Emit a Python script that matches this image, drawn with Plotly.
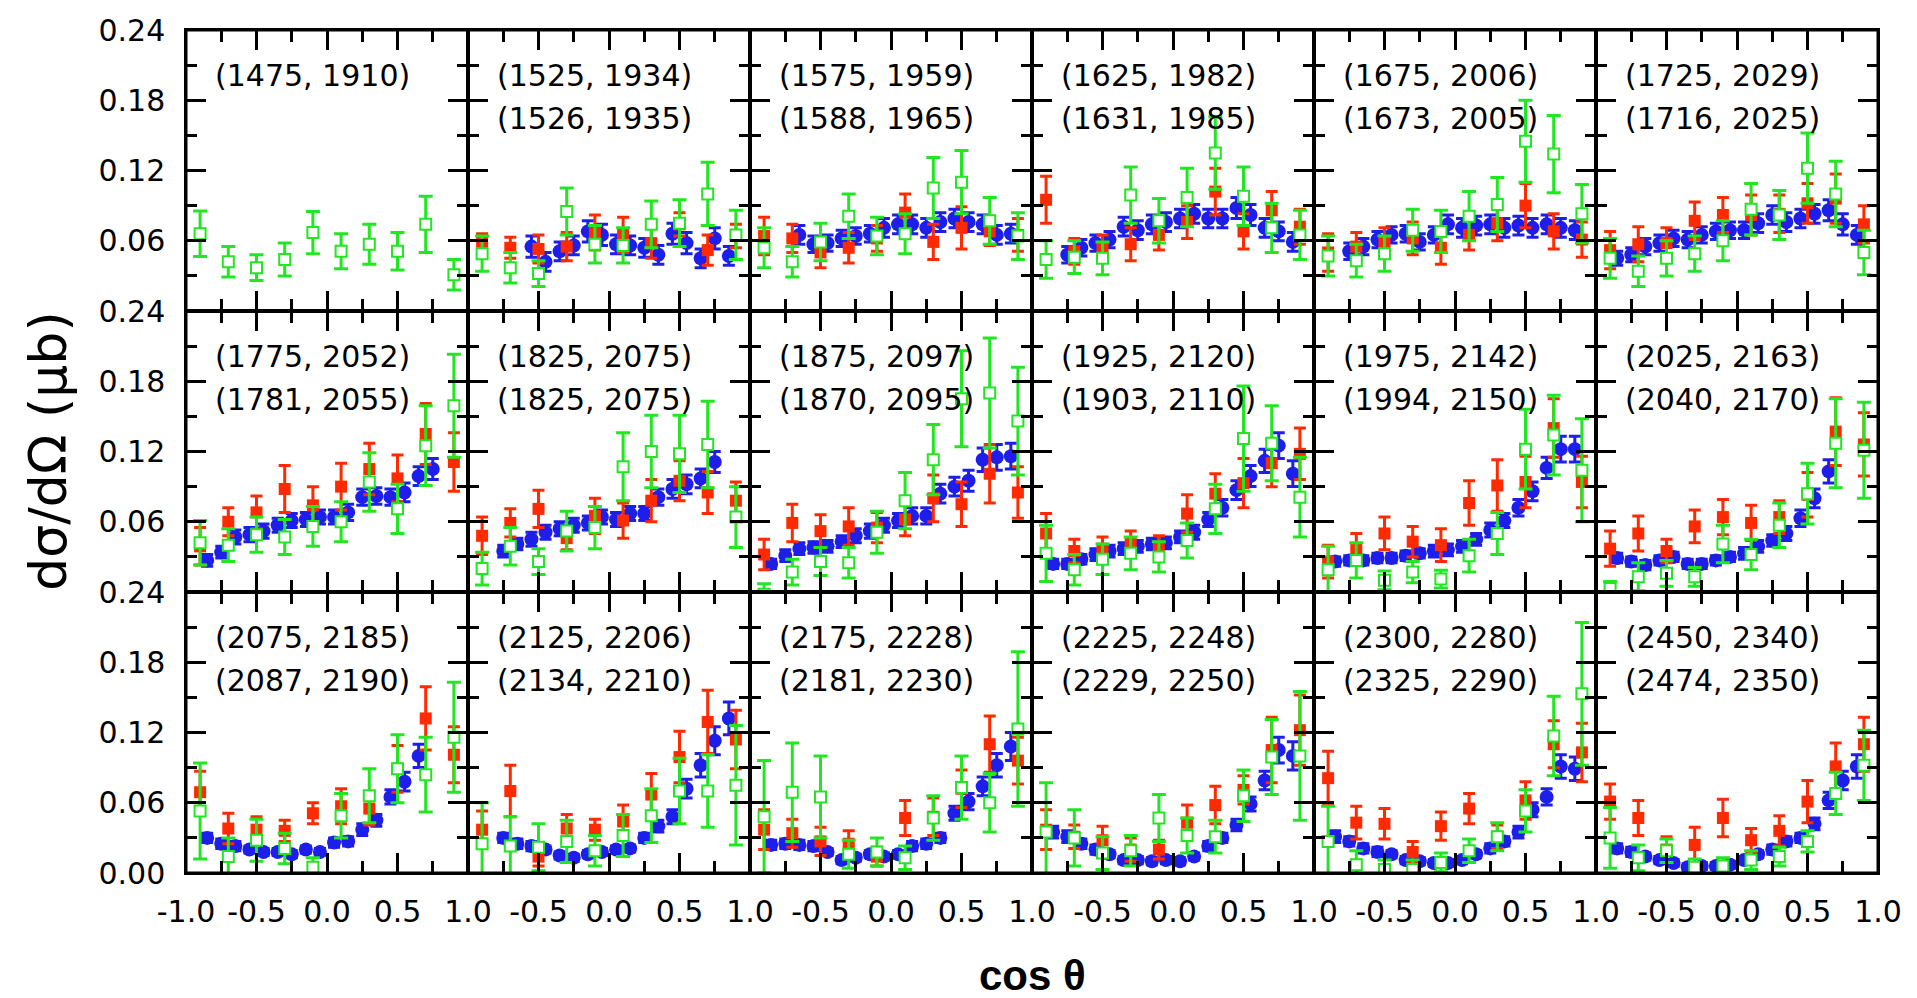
import plotly.graph_objects as go
from plotly.subplots import make_subplots

# ---------------- data ----------------
line1 = ["(1475, 1910)", "(1525, 1934)", "(1575, 1959)", "(1625, 1982)", "(1675, 2006)", "(1725, 2029)",
         "(1775, 2052)", "(1825, 2075)", "(1875, 2097)", "(1925, 2120)", "(1975, 2142)", "(2025, 2163)",
         "(2075, 2185)", "(2125, 2206)", "(2175, 2228)", "(2225, 2248)", "(2300, 2280)", "(2450, 2340)"]
line2 = ["", "(1526, 1935)", "(1588, 1965)", "(1631, 1985)", "(1673, 2005)", "(1716, 2025)",
         "(1781, 2055)", "(1825, 2075)", "(1870, 2095)", "(1903, 2110)", "(1994, 2150)", "(2040, 2170)",
         "(2087, 2190)", "(2134, 2210)", "(2181, 2230)", "(2229, 2250)", "(2325, 2290)", "(2474, 2350)"]

# cos(theta) bins of the open (green) and filled (red) squares
sq_x = [-0.9, -0.7, -0.5, -0.3, -0.1, 0.1, 0.3, 0.5, 0.7, 0.9]
# cos(theta) bins of the blue circles
blue_x = [-0.85, -0.75, -0.65, -0.55, -0.45, -0.35, -0.25, -0.15, -0.05,
          0.05, 0.15, 0.25, 0.35, 0.45, 0.55, 0.65, 0.75, 0.85]

green_y = [
    [0.066, 0.042, 0.037, 0.044, 0.067, 0.051, 0.057, 0.051, 0.074, 0.031],
    [0.049, 0.037, 0.032, 0.085, 0.057, 0.056, 0.074, 0.075, 0.100, 0.065],
    [0.054, 0.042, 0.059, 0.081, 0.064, 0.066, 0.105, 0.110, 0.077, 0.064],
    [0.044, 0.046, 0.045, 0.099, 0.077, 0.097, 0.135, 0.098, 0.071, 0.065],
    [0.047, 0.043, 0.049, 0.069, 0.068, 0.081, 0.091, 0.145, 0.134, 0.083],
    [0.045, 0.034, 0.045, 0.049, 0.060, 0.087, 0.082, 0.122, 0.100, 0.050],
    [0.042, 0.040, 0.049, 0.047, 0.056, 0.060, 0.094, 0.071, 0.125, 0.159],
    [0.020, 0.039, 0.026, 0.052, 0.055, 0.107, 0.120, 0.118, 0.126, 0.064],
    [-0.002, 0.017, 0.026, 0.025, 0.051, 0.078, 0.113, 0.165, 0.170, 0.146],
    [0.033, 0.019, 0.028, 0.033, 0.030, 0.044, 0.071, 0.131, 0.127, 0.081],
    [0.019, 0.027, 0.010, 0.017, 0.011, 0.031, 0.050, 0.122, 0.134, 0.104],
    [0.003, 0.013, 0.016, 0.013, 0.041, 0.032, 0.057, 0.084, 0.127, 0.121],
    [0.053, 0.014, 0.028, 0.021, 0.005, 0.049, 0.066, 0.089, 0.084, 0.116],
    [0.025, 0.023, 0.022, 0.027, 0.019, 0.032, 0.049, 0.070, 0.070, 0.075],
    [0.048, 0.069, 0.065, 0.016, 0.018, 0.013, 0.047, 0.073, 0.060, 0.123],
    [0.035, 0.030, 0.017, 0.019, 0.047, 0.032, 0.031, 0.066, 0.099, 0.100],
    [0.027, 0.007, 0.003, 0.003, 0.009, 0.019, 0.031, 0.053, 0.117, 0.153],
    [0.030, 0.013, 0.019, 0.005, 0.006, 0.011, 0.014, 0.027, 0.068, 0.092],
]
green_err = [
    [0.0195, 0.013, 0.011, 0.014, 0.018, 0.015, 0.017, 0.016, 0.024, 0.013],
    [0.015, 0.013, 0.011, 0.020, 0.016, 0.015, 0.020, 0.020, 0.027, 0.021],
    [0.017, 0.013, 0.016, 0.019, 0.016, 0.017, 0.026, 0.027, 0.020, 0.020],
    [0.016, 0.014, 0.014, 0.024, 0.019, 0.025, 0.031, 0.025, 0.021, 0.021],
    [0.017, 0.014, 0.015, 0.018, 0.018, 0.021, 0.023, 0.035, 0.033, 0.025],
    [0.017, 0.013, 0.015, 0.015, 0.017, 0.022, 0.021, 0.030, 0.028, 0.019],
    [0.019, 0.014, 0.015, 0.015, 0.017, 0.017, 0.025, 0.021, 0.034, 0.044],
    [0.014, 0.016, 0.011, 0.017, 0.018, 0.029, 0.031, 0.033, 0.037, 0.026],
    [0.009, 0.011, 0.012, 0.013, 0.018, 0.024, 0.030, 0.041, 0.047, 0.046],
    [0.024, 0.013, 0.013, 0.014, 0.013, 0.015, 0.021, 0.045, 0.032, 0.034],
    [0.020, 0.015, 0.008, 0.009, 0.0075, 0.014, 0.018, 0.034, 0.034, 0.044],
    [0.006, 0.012, 0.011, 0.008, 0.016, 0.013, 0.019, 0.026, 0.038, 0.041],
    [0.041, 0.016, 0.018, 0.013, 0.008, 0.019, 0.023, 0.029, 0.032, 0.047],
    [0.035, 0.025, 0.020, 0.018, 0.013, 0.018, 0.023, 0.028, 0.031, 0.051],
    [0.048, 0.042, 0.035, 0.012, 0.012, 0.010, 0.019, 0.027, 0.025, 0.066],
    [0.042, 0.024, 0.014, 0.013, 0.020, 0.015, 0.014, 0.022, 0.032, 0.055],
    [0.030, 0.012, 0.008, 0.008, 0.008, 0.010, 0.012, 0.018, 0.034, 0.061],
    [0.026, 0.011, 0.010, 0.007, 0.007, 0.008, 0.008, 0.009, 0.018, 0.030],
]

red_y = [
    [],
    [0.059, 0.054, 0.053, 0.055, 0.067, 0.065, 0.058, 0.074, 0.052, 0.064],
    [0.064, 0.062, 0.050, 0.054, 0.062, 0.084, 0.059, 0.071, 0.068, 0.065],
    [0.095, 0.051, 0.054, 0.057, 0.065, 0.076, 0.102, 0.068, 0.086, 0.072],
    [0.050, 0.055, 0.059, 0.062, 0.054, 0.065, 0.075, 0.090, 0.068, 0.061],
    [0.052, 0.057, 0.058, 0.077, 0.082, 0.082, 0.083, 0.092, 0.096, 0.074],
    [0.039, 0.060, 0.068, 0.088, 0.074, 0.090, 0.105, 0.097, 0.135, 0.111],
    [0.048, 0.059, 0.071, 0.046, 0.065, 0.061, 0.078, 0.095, 0.085, 0.078],
    [0.032, 0.059, 0.052, 0.056, 0.055, 0.062, 0.080, 0.075, 0.101, 0.085],
    [0.050, 0.035, 0.037, 0.042, 0.039, 0.067, 0.084, 0.093, 0.110, 0.118],
    [0.026, 0.037, 0.050, 0.043, 0.040, 0.076, 0.091, 0.094, 0.140, 0.094],
    [0.037, 0.050, 0.035, 0.056, 0.064, 0.059, 0.064, 0.083, 0.137, 0.126],
    [0.069, 0.038, 0.037, 0.036, 0.051, 0.057, 0.055, 0.089, 0.132, 0.101],
    [0.037, 0.070, 0.014, 0.038, 0.037, 0.044, 0.067, 0.099, 0.129, 0.114],
    [0.037, 0.034, 0.027, 0.025, 0.014, 0.047, 0.048, 0.072, 0.110, 0.096],
    [0.037, 0.031, 0.028, 0.020, 0.020, 0.043, 0.058, 0.071, 0.105, 0.122],
    [0.081, 0.043, 0.042, 0.018, 0.040, 0.055, 0.031, 0.062, 0.110, 0.103],
    [0.061, 0.047, 0.020, 0.024, 0.047, 0.028, 0.036, 0.061, 0.091, 0.110],
]
red_err = [
    [],
    [0.007, 0.009, 0.012, 0.012, 0.015, 0.015, 0.013, 0.010, 0.013, 0.010],
    [0.016, 0.012, 0.013, 0.013, 0.011, 0.016, 0.015, 0.018, 0.012, 0.014],
    [0.020, 0.011, 0.011, 0.014, 0.013, 0.014, 0.020, 0.015, 0.016, 0.015],
    [0.016, 0.012, 0.012, 0.014, 0.014, 0.013, 0.015, 0.019, 0.015, 0.015],
    [0.016, 0.015, 0.013, 0.016, 0.015, 0.017, 0.016, 0.017, 0.021, 0.016],
    [0.016, 0.012, 0.014, 0.020, 0.016, 0.020, 0.022, 0.020, 0.026, 0.025],
    [0.016, 0.012, 0.016, 0.010, 0.015, 0.015, 0.018, 0.017, 0.018, 0.016],
    [0.013, 0.016, 0.014, 0.016, 0.013, 0.014, 0.020, 0.019, 0.025, 0.022],
    [0.017, 0.010, 0.010, 0.010, 0.009, 0.016, 0.017, 0.021, 0.020, 0.022],
    [0.014, 0.013, 0.014, 0.013, 0.014, 0.019, 0.022, 0.022, 0.025, 0.022],
    [0.015, 0.015, 0.010, 0.014, 0.015, 0.015, 0.014, 0.019, 0.029, 0.027],
    [0.018, 0.013, 0.011, 0.009, 0.009, 0.015, 0.014, 0.020, 0.027, 0.024],
    [0.016, 0.022, 0.008, 0.012, 0.009, 0.014, 0.018, 0.022, 0.027, 0.025],
    [0.017, 0.012, 0.012, 0.011, 0.008, 0.015, 0.016, 0.016, 0.024, 0.020],
    [0.017, 0.010, 0.012, 0.010, 0.008, 0.015, 0.016, 0.012, 0.028, 0.030],
    [0.023, 0.014, 0.013, 0.009, 0.012, 0.013, 0.010, 0.016, 0.020, 0.025],
    [0.015, 0.015, 0.011, 0.015, 0.016, 0.010, 0.013, 0.018, 0.020, 0.023],
]

# index into blue_x of each panel's first blue point
blue_start = [0, 3, 2, 1, 1, 0, 0, 1, 0, 0, 0, 0, 0, 1, 0, 0, 0, 0]
blue_y = [
    [],
    [0.055, 0.042, 0.051, 0.056, 0.068, 0.065, 0.057, 0.056, 0.054, 0.048, 0.066, 0.058, 0.045, 0.062, 0.047],
    [0.065, 0.057, 0.058, 0.062, 0.064, 0.066, 0.071, 0.074, 0.074, 0.071, 0.076, 0.079, 0.076, 0.074, 0.065, 0.066],
    [0.048, 0.054, 0.058, 0.061, 0.072, 0.069, 0.074, 0.076, 0.079, 0.083, 0.079, 0.079, 0.088, 0.082, 0.071, 0.068, 0.059],
    [0.051, 0.055, 0.061, 0.065, 0.066, 0.059, 0.065, 0.074, 0.071, 0.073, 0.074, 0.071, 0.073, 0.071, 0.074, 0.071, 0.069],
    [0.045, 0.048, 0.055, 0.058, 0.062, 0.061, 0.065, 0.068, 0.069, 0.069, 0.075, 0.082, 0.076, 0.079, 0.083, 0.086, 0.074, 0.065],
    [0.027, 0.034, 0.047, 0.049, 0.052, 0.057, 0.061, 0.062, 0.064, 0.064, 0.068, 0.081, 0.082, 0.081, 0.085, 0.099, 0.105],
    [0.035, 0.041, 0.045, 0.051, 0.054, 0.057, 0.059, 0.064, 0.062, 0.067, 0.067, 0.081, 0.088, 0.092, 0.097, 0.111],
    [0.024, 0.031, 0.037, 0.038, 0.039, 0.043, 0.048, 0.052, 0.057, 0.061, 0.065, 0.065, 0.084, 0.090, 0.095, 0.113, 0.115, 0.116],
    [0.024, 0.024, 0.028, 0.032, 0.035, 0.037, 0.039, 0.041, 0.042, 0.047, 0.051, 0.062, 0.072, 0.087, 0.099, 0.112, 0.125, 0.101],
    [0.026, 0.027, 0.027, 0.029, 0.029, 0.031, 0.033, 0.035, 0.036, 0.039, 0.045, 0.053, 0.061, 0.072, 0.086, 0.106, 0.122, 0.122],
    [0.029, 0.026, 0.023, 0.027, 0.030, 0.024, 0.024, 0.027, 0.030, 0.033, 0.039, 0.044, 0.050, 0.063, 0.080, 0.103],
    [0.030, 0.025, 0.023, 0.020, 0.018, 0.018, 0.016, 0.020, 0.018, 0.026, 0.027, 0.037, 0.045, 0.065, 0.078, 0.100],
    [0.030, 0.025, 0.023, 0.020, 0.015, 0.013, 0.016, 0.018, 0.020, 0.021, 0.030, 0.040, 0.048, 0.072, 0.092, 0.113, 0.132],
    [0.024, 0.025, 0.024, 0.023, 0.018, 0.011, 0.013, 0.016, 0.014, 0.016, 0.023, 0.025, 0.030, 0.051, 0.061, 0.074, 0.092, 0.108],
    [0.035, 0.031, 0.025, 0.020, 0.016, 0.011, 0.011, 0.010, 0.011, 0.010, 0.014, 0.023, 0.030, 0.041, 0.059, 0.079, 0.105, 0.100],
    [0.031, 0.027, 0.021, 0.018, 0.016, 0.011, 0.010, 0.0085, 0.0085, 0.011, 0.016, 0.021, 0.027, 0.035, 0.054, 0.065, 0.091, 0.089],
    [0.021, 0.018, 0.014, 0.011, 0.0085, 0.005, 0.006, 0.006, 0.007, 0.011, 0.016, 0.020, 0.027, 0.030, 0.042, 0.062, 0.079, 0.091],
]
blue_err = [
    [],
    [0.009, 0.008, 0.008, 0.008, 0.009, 0.009, 0.008, 0.008, 0.008, 0.008, 0.009, 0.009, 0.008, 0.009, 0.008],
    [0.008, 0.007, 0.007, 0.007, 0.007, 0.007, 0.008, 0.008, 0.008, 0.008, 0.008, 0.008, 0.008, 0.008, 0.008, 0.008],
    [0.007, 0.007, 0.007, 0.007, 0.008, 0.008, 0.008, 0.008, 0.008, 0.008, 0.008, 0.008, 0.009, 0.009, 0.008, 0.008, 0.008],
    [0.007, 0.007, 0.007, 0.007, 0.007, 0.007, 0.007, 0.008, 0.008, 0.008, 0.008, 0.008, 0.008, 0.008, 0.008, 0.008, 0.008],
    [0.006, 0.006, 0.007, 0.007, 0.007, 0.007, 0.007, 0.007, 0.007, 0.007, 0.008, 0.008, 0.008, 0.008, 0.008, 0.009, 0.009, 0.008],
    [0.005, 0.005, 0.006, 0.006, 0.006, 0.006, 0.006, 0.006, 0.006, 0.006, 0.007, 0.007, 0.007, 0.007, 0.008, 0.008, 0.009],
    [0.005, 0.005, 0.006, 0.006, 0.006, 0.006, 0.006, 0.006, 0.006, 0.006, 0.006, 0.007, 0.008, 0.008, 0.008, 0.009],
    [0.004, 0.005, 0.005, 0.005, 0.005, 0.005, 0.006, 0.006, 0.006, 0.006, 0.007, 0.007, 0.008, 0.008, 0.009, 0.010, 0.011, 0.011],
    [0.004, 0.004, 0.004, 0.005, 0.005, 0.005, 0.005, 0.005, 0.005, 0.005, 0.006, 0.006, 0.007, 0.008, 0.009, 0.010, 0.011, 0.011],
    [0.004, 0.004, 0.004, 0.004, 0.004, 0.004, 0.004, 0.005, 0.005, 0.005, 0.005, 0.006, 0.006, 0.007, 0.008, 0.009, 0.011, 0.011],
    [0.004, 0.004, 0.004, 0.004, 0.004, 0.004, 0.004, 0.004, 0.004, 0.005, 0.005, 0.005, 0.006, 0.007, 0.008, 0.010],
    [0.004, 0.004, 0.004, 0.003, 0.003, 0.003, 0.003, 0.003, 0.003, 0.004, 0.004, 0.005, 0.005, 0.006, 0.008, 0.010],
    [0.004, 0.004, 0.004, 0.003, 0.003, 0.003, 0.003, 0.003, 0.003, 0.003, 0.004, 0.005, 0.006, 0.008, 0.010, 0.012, 0.014],
    [0.004, 0.004, 0.004, 0.004, 0.003, 0.003, 0.003, 0.003, 0.003, 0.003, 0.004, 0.004, 0.004, 0.006, 0.007, 0.008, 0.010, 0.012],
    [0.005, 0.005, 0.004, 0.004, 0.003, 0.003, 0.003, 0.003, 0.003, 0.003, 0.003, 0.004, 0.004, 0.005, 0.006, 0.008, 0.011, 0.012],
    [0.005, 0.004, 0.004, 0.004, 0.003, 0.003, 0.003, 0.003, 0.003, 0.003, 0.003, 0.004, 0.004, 0.005, 0.006, 0.007, 0.010, 0.010],
    [0.004, 0.004, 0.003, 0.003, 0.003, 0.003, 0.003, 0.003, 0.003, 0.003, 0.003, 0.004, 0.004, 0.004, 0.005, 0.007, 0.008, 0.010],
]

x_tickvals = [-1.0, -0.5, 0.0, 0.5, 1.0]
x_text_first = ["-1.0", "-0.5", "0.0", "0.5", "1.0"]
x_text_other = ["", "-0.5", "0.0", "0.5", "1.0"]
x_minor = [-0.75, -0.25, 0.25, 0.75]
y_tickvals = [0.0, 0.06, 0.12, 0.18, 0.24]
y_text_bottom = ["0.00", "0.06", "0.12", "0.18", "0.24"]
y_text_other = ["", "0.06", "0.12", "0.18", "0.24"]
y_minor = [0.03, 0.09, 0.15, 0.21]

# ---------------- style ----------------
BLUE = "#1e1eeb"
RED = "#ff2a00"
GREEN = "#22e622"
NROW, NCOL = 3, 6
TICKFONT = dict(family="DejaVu Sans", size=30, color="black")
LW = 1.5  # each neighbour draws its own edge line -> interior separators ~3 px

fig = make_subplots(rows=NROW, cols=NCOL, horizontal_spacing=0, vertical_spacing=0)

for p in range(NROW * NCOL):
    r, c = p // NCOL + 1, p % NCOL + 1
    if blue_y[p]:
        s = blue_start[p]
        bx = blue_x[s:s + len(blue_y[p])]
        fig.add_trace(go.Scatter(
            x=bx, y=blue_y[p], mode="markers",
            marker=dict(symbol="circle", size=14, color=BLUE),
            error_y=dict(type="data", array=blue_err[p], color=BLUE, thickness=3, width=6),
            showlegend=False), row=r, col=c)
    if red_y[p]:
        fig.add_trace(go.Scatter(
            x=sq_x, y=red_y[p], mode="markers",
            marker=dict(symbol="square", size=12, color=RED),
            error_y=dict(type="data", array=red_err[p], color=RED, thickness=3, width=6),
            showlegend=False), row=r, col=c)
    fig.add_trace(go.Scatter(
        x=sq_x, y=green_y[p], mode="markers",
        marker=dict(symbol="square", size=11, color="white", line=dict(color=GREEN, width=2)),
        error_y=dict(type="data", array=green_err[p], color=GREEN, thickness=3, width=7),
        showlegend=False), row=r, col=c)

    # panel labels
    idx = "" if p == 0 else str(p + 1)
    fig.add_annotation(text=line1[p], xref=f"x{idx} domain", yref=f"y{idx} domain",
                       x=0.096, y=0.837, xanchor="left", yanchor="middle", showarrow=False,
                       font=dict(family="DejaVu Sans", size=30, color="black"))
    if line2[p]:
        fig.add_annotation(text=line2[p], xref=f"x{idx} domain", yref=f"y{idx} domain",
                           x=0.096, y=0.684, xanchor="left", yanchor="middle", showarrow=False,
                           font=dict(family="DejaVu Sans", size=30, color="black"))

    fig.update_xaxes(
        row=r, col=c, range=[-1, 1], showgrid=False, zeroline=False,
        showline=True, linecolor="black", linewidth=LW, mirror="allticks",
        ticks="inside", ticklen=20, tickwidth=2.5, tickcolor="black",
        tickmode="array", tickvals=x_tickvals,
        ticktext=x_text_first if c == 1 else x_text_other,
        minor=dict(tickmode="array", tickvals=x_minor, ticks="inside", ticklen=12,
                   tickwidth=2.5, tickcolor="black", showgrid=False),
        showticklabels=(r == NROW), ticklabelstandoff=11, tickfont=TICKFONT)
    fig.update_yaxes(
        row=r, col=c, range=[0, 0.24], showgrid=False, zeroline=False,
        showline=True, linecolor="black", linewidth=LW, mirror="allticks",
        ticks="inside", ticklen=20, tickwidth=2.5, tickcolor="black",
        tickmode="array", tickvals=y_tickvals,
        ticktext=y_text_bottom if r == NROW else y_text_other,
        minor=dict(tickmode="array", tickvals=y_minor, ticks="inside", ticklen=11,
                   tickwidth=2.5, tickcolor="black", showgrid=False),
        showticklabels=(c == 1), ticklabelstandoff=13, tickfont=TICKFONT)

# heavier outer frame
fig.add_shape(type="rect", xref="paper", yref="paper", x0=0, x1=1, y0=0, y1=1,
              line=dict(color="black", width=3), fillcolor="rgba(0,0,0,0)", layer="above")

fig.add_annotation(text="dσ/dΩ (μb)", xref="paper", yref="paper", x=-0.082, y=0.5,
                   textangle=-90, showarrow=False, xanchor="center", yanchor="middle",
                   font=dict(family="DejaVu Sans", size=52, color="black"))
fig.add_annotation(text="cos θ", xref="paper", yref="paper", x=0.5, y=-0.122,
                   showarrow=False, xanchor="center", yanchor="middle",
                   font=dict(family="Liberation Sans", size=42, color="black", weight="bold"))

fig.update_layout(width=1917, height=998, margin=dict(l=186, r=39, t=27, b=125),
                  paper_bgcolor="white", plot_bgcolor="white", showlegend=False)

fig.write_html("out.html")
